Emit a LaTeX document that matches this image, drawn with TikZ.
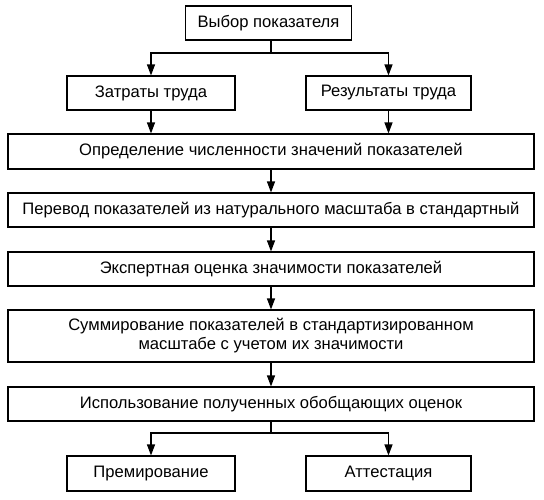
\documentclass[tikz,border=0pt]{standalone}
\usepackage{fontspec}
\setmainfont{Liberation Sans}
\usetikzlibrary{arrows.meta}
\begin{document}
\begin{tikzpicture}[x=1pt,y=-1pt,
  box/.style={draw,line width=1.1pt,inner sep=0pt,align=center,font=\fontsize{16.6}{19}\selectfont},
  arr/.style={line width=1.1pt,-{Triangle[length=11pt,width=8pt]}},
  ln/.style={line width=1.1pt}]
\useasboundingbox (0,0) rectangle (544,499);
\node[box,minimum width=166pt,minimum height=34pt] (top) at (268.5,23) {Выбор показателя};
\node[box,minimum width=168pt,minimum height=34pt] (zt) at (151,93) {Затраты труда};
\node[box,minimum width=165pt,minimum height=34pt] (rt) at (388.5,93) {Результаты труда};
\node[box,minimum width=526pt,minimum height=35pt] (b1) at (271,151.5) {Определение численности значений показателей};
\node[box,minimum width=526pt,minimum height=34pt] (b2) at (271,210) {Перевод показателей из натурального масштаба в стандартный};
\node[box,minimum width=526pt,minimum height=34pt] (b3) at (271,269) {Экспертная оценка значимости показателей};
\node[box,minimum width=526pt,minimum height=52pt] (b4) at (271,336) {Суммирование показателей в стандартизированном\\масштабе с учетом их значимости};
\node[box,minimum width=526pt,minimum height=34pt] (b5) at (271,404) {Использование полученных обобщающих оценок};
\node[box,minimum width=168pt,minimum height=35pt] (pr) at (151,473.5) {Премирование};
\node[box,minimum width=165pt,minimum height=35pt] (at) at (388.5,473.5) {Аттестация};
\coordinate (j1) at (271,53);
\coordinate (j2) at (271,433);
\draw[ln] (top.south -| j1) -- (j1);
\draw[arr] (j1) -| (zt.north);
\draw[arr] (j1) -| (rt.north);
\draw[arr] (zt.south) -- (zt.south |- b1.north);
\draw[arr] (rt.south) -- (rt.south |- b1.north);
\draw[arr] (b1) -- (b2);
\draw[arr] (b2) -- (b3);
\draw[arr] (b3) -- (b4);
\draw[arr] (b4) -- (b5);
\draw[ln] (b5.south) -- (j2);
\draw[arr] (j2) -| (pr.north);
\draw[arr] (j2) -| (at.north);
\end{tikzpicture}
\end{document}
